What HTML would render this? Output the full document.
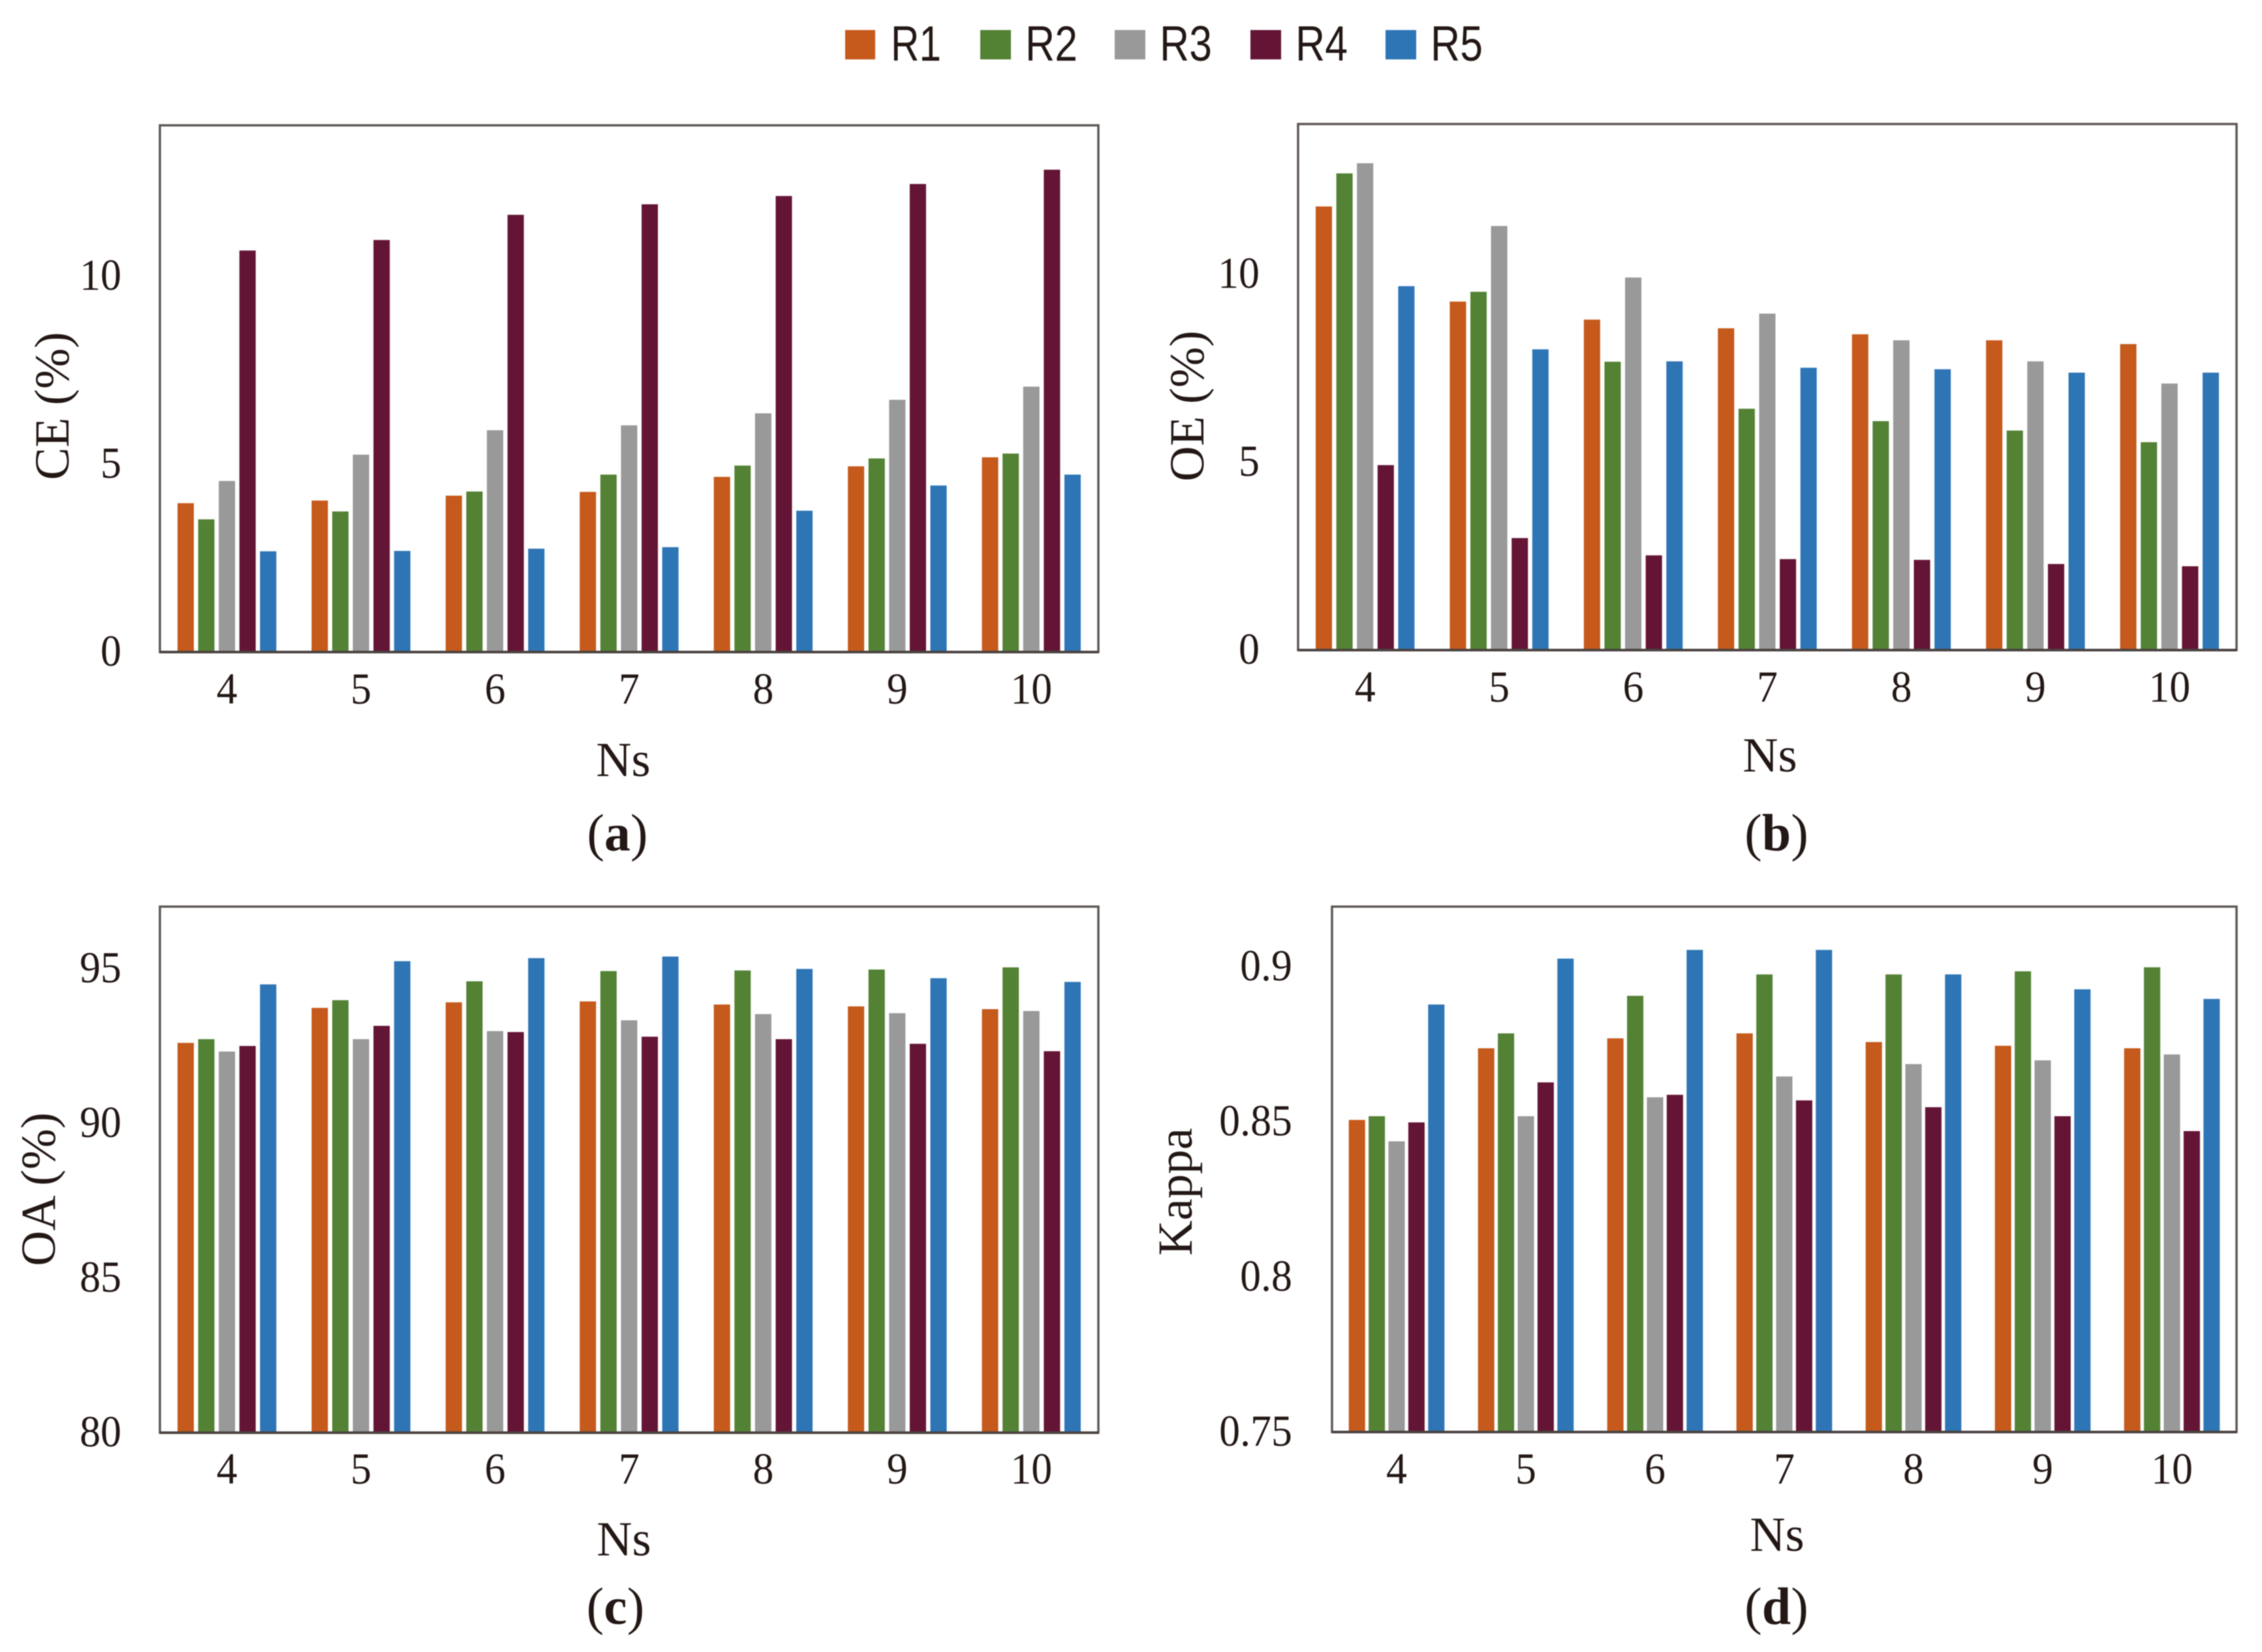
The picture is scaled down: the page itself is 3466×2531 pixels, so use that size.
<!DOCTYPE html>
<html lang="en">
<head>
<meta charset="utf-8">
<title>Bar charts of CE, OE, OA and Kappa by Ns</title>
<style>
html,body{margin:0;padding:0;background:#fff;}
svg{display:block;filter:blur(0.7px);}
text{font-family:"Liberation Serif",serif;fill:#231815;}
.leg{font-family:"Liberation Sans",sans-serif;font-size:76px;}
.title{font-size:75px;}
.cap{font-size:80px;text-anchor:middle;}
.cap .b{font-weight:bold;}
.tick{font-size:68px;}
</style>
</head>
<body>
<svg id="fig" xmlns="http://www.w3.org/2000/svg" width="3466" height="2531" viewBox="0 0 3466 2531">
  <rect x="0" y="0" width="3466" height="2531" fill="#ffffff"/>
  <g>
    <g><rect x="1295" y="46" width="46" height="45" fill="#C55A1C"/><text class="leg" x="1365" y="93" textLength="77" lengthAdjust="spacingAndGlyphs">R1</text></g>
    <g><rect x="1502" y="46" width="47" height="45" fill="#548235"/><text class="leg" x="1571" y="93" textLength="80" lengthAdjust="spacingAndGlyphs">R2</text></g>
    <g><rect x="1708" y="46" width="47" height="45" fill="#999999"/><text class="leg" x="1777" y="93" textLength="80" lengthAdjust="spacingAndGlyphs">R3</text></g>
    <g><rect x="1916" y="46" width="47" height="45" fill="#641535"/><text class="leg" x="1985" y="93" textLength="80" lengthAdjust="spacingAndGlyphs">R4</text></g>
    <g><rect x="2123" y="46" width="47" height="45" fill="#2E75B6"/><text class="leg" x="2192" y="93" textLength="80" lengthAdjust="spacingAndGlyphs">R5</text></g>
  </g>

  <g id="panel-a"></g>
  <g id="panel-b"></g>
  <g id="panel-c"></g>
  <g id="panel-d"></g>

  <text class="title" transform="translate(105,622) rotate(-90)" text-anchor="middle">CE (%)</text>
  <text class="title" transform="translate(1844,622) rotate(-90)" text-anchor="middle">OE (%)</text>
  <text class="title" transform="translate(84,1822) rotate(-90)" text-anchor="middle">OA (%)</text>
  <text class="title" transform="translate(1826,1826) rotate(-90)" text-anchor="middle">Kappa</text>

  <text class="title" x="955" y="1189" text-anchor="middle">Ns</text>
  <text class="title" x="2712" y="1182" text-anchor="middle">Ns</text>
  <text class="title" x="956" y="2383" text-anchor="middle">Ns</text>
  <text class="title" x="2723" y="2376" text-anchor="middle">Ns</text>

  <text class="cap" x="946" y="1303">(<tspan class="b">a</tspan>)</text>
  <text class="cap" x="2722" y="1303">(<tspan class="b">b</tspan>)</text>
  <text class="cap" x="943" y="2488">(<tspan class="b">c</tspan>)</text>
  <text class="cap" x="2722" y="2488">(<tspan class="b">d</tspan>)</text>
</svg>
<script>
const categories = ['4','5','6','7','8','9','10'];
const seriesNames = ['R1','R2','R3','R4','R5'];
const seriesColors = ['#C55A1C','#548235','#999999','#641535','#2E75B6'];

const ceR1 = [3.96,4.03,4.16,4.26,4.66,4.94,5.18];
const ceR2 = [3.53,3.74,4.27,4.72,4.96,5.15,5.28];
const ceR3 = [4.55,5.25,5.90,6.03,6.35,6.71,7.06];
const ceR4 = [10.68,10.96,11.63,11.91,12.13,12.45,12.83];
const ceR5 = [2.68,2.69,2.75,2.79,3.76,4.43,4.72];
const ceTicks = [0,5,10];

const oeR1 = [11.80,9.27,8.79,8.56,8.40,8.24,8.14];
const oeR2 = [12.68,9.53,7.67,6.42,6.09,5.84,5.53];
const oeR3 = [12.95,11.28,9.91,8.95,8.24,7.68,7.09];
const oeR4 = [4.92,2.98,2.52,2.42,2.40,2.29,2.23];
const oeR5 = [9.68,8.00,7.68,7.51,7.47,7.38,7.38];
const oeTicks = [0,5,10];

const oaR1 = [92.60,93.73,93.91,93.94,93.84,93.78,93.69];
const oaR2 = [92.72,93.98,94.59,94.92,94.94,94.97,95.04];
const oaR3 = [92.32,92.72,92.98,93.33,93.53,93.56,93.63];
const oaR4 = [92.50,93.15,92.95,92.80,92.72,92.57,92.33];
const oaR5 = [94.49,95.24,95.34,95.39,94.99,94.69,94.57];
const oaTicks = [80,85,90,95];

const kappaR1 = [0.8506,0.8737,0.8769,0.8785,0.8757,0.8745,0.8737];
const kappaR2 = [0.8518,0.8785,0.8906,0.8975,0.8975,0.8985,0.8998];
const kappaR3 = [0.8437,0.8518,0.8579,0.8646,0.8686,0.8698,0.8717];
const kappaR4 = [0.8498,0.8627,0.8587,0.8569,0.8547,0.8518,0.8470];
const kappaR5 = [0.8878,0.9026,0.9054,0.9054,0.8975,0.8927,0.8896];
const kappaTicks = ['0.75','0.8','0.85','0.9'];

const SVGNS = 'http://www.w3.org/2000/svg';
const TICK_SQUEEZE = 0.94;

function make(tag, parent, attrs) {
  const el = document.createElementNS(SVGNS, tag);
  for (const k in attrs) el.setAttribute(k, attrs[k]);
  parent.appendChild(el);
  return el;
}

function drawPanel(id, key, series, ticks, box) {
  const root = document.getElementById(id);
  const domainMin = Number(ticks[0]);
  const domainMax = Number(ticks[ticks.length - 1]);
  const yScale = v => box.bottom - (v - domainMin) * box.tickSpan / (domainMax - domainMin);
  const band = (box.right - box.left) / categories.length;
  const xCenter = i => box.left + band * (i + 0.5);

  series.forEach((values, s) => {
    values.forEach((v, c) => {
      const bar = make('rect', root, {
        x: xCenter(c) + (s - 2) * box.step - box.barW / 2,
        y: yScale(v),
        width: box.barW,
        height: box.bottom - yScale(v),
        fill: seriesColors[s]
      });
      
      
    });
  });

  const frame = make('rect', root, {
    x: box.left, y: box.top, width: box.right - box.left, height: box.bottom - box.top,
    fill: 'none', stroke: '#5e5855', 'stroke-width': 3.5
  });
  
  

  const base = make('line', root, {
    x1: box.left, x2: box.right, y1: box.bottom, y2: box.bottom,
    stroke: '#4a4340', 'stroke-width': 4
  });
  
  

  ticks.forEach(t => {
    const label = make('text', root, {
      transform: 'translate(' + box.tickRight + ',' + (yScale(Number(t)) + 21) + ') scale(' + TICK_SQUEEZE + ',1)',
      'text-anchor': 'end', class: 'tick'
    });
    label.textContent = String(t);
    
    
  });

  categories.forEach((cat, i) => {
    const label = make('text', root, {
      transform: 'translate(' + xCenter(i) + ',' + box.xLabelY + ') scale(' + TICK_SQUEEZE + ',1)',
      'text-anchor': 'middle', class: 'tick'
    });
    label.textContent = cat;
    
    
  });
}

drawPanel('panel-a', 'ce', [ceR1,ceR2,ceR3,ceR4,ceR5], ceTicks,
  {left:245, right:1683, top:192, bottom:999, tickSpan:576, barW:25, step:31.6, tickRight:186, xLabelY:1078});
drawPanel('panel-b', 'oe', [oeR1,oeR2,oeR3,oeR4,oeR5], oeTicks,
  {left:1989, right:3427, top:190, bottom:996, tickSpan:576, barW:25, step:31.6, tickRight:1930, xLabelY:1075});
drawPanel('panel-c', 'oa', [oaR1,oaR2,oaR3,oaR4,oaR5], oaTicks,
  {left:245, right:1683, top:1389, bottom:2195, tickSpan:711, barW:25, step:31.6, tickRight:186, xLabelY:2273});
drawPanel('panel-d', 'kappa', [kappaR1,kappaR2,kappaR3,kappaR4,kappaR5], kappaTicks,
  {left:2041, right:3427, top:1389, bottom:2194, tickSpan:713, barW:25, step:30.4, tickRight:1980, xLabelY:2273});
</script>
</body>
</html>
